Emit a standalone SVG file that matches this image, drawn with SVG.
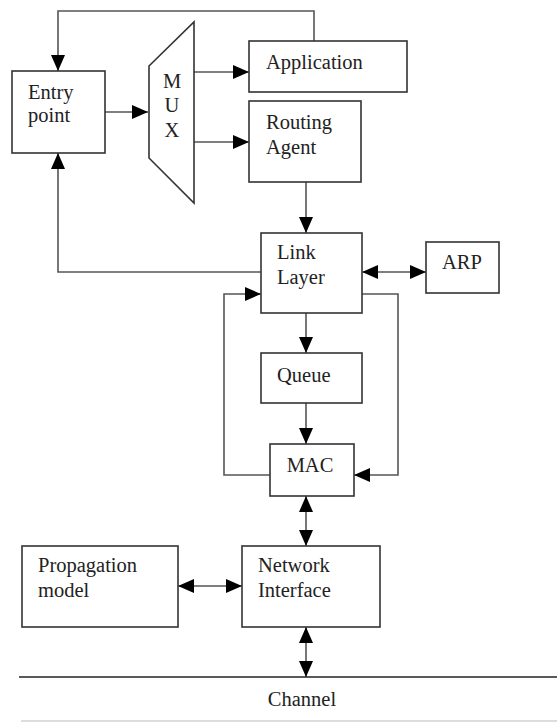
<svg xmlns="http://www.w3.org/2000/svg" width="557" height="723" viewBox="0 0 557 723">
<style>
.box{fill:#fff;stroke:#333;stroke-width:1.6}
.ln{fill:none;stroke:#555;stroke-width:1.6}
text{font-family:"Times New Roman","Liberation Serif",Times,Tinos,"DejaVu Serif","Noto Serif",serif;font-size:20.5px;fill:#222}
.c{text-anchor:middle}
</style>
<defs>
<marker id="ah" markerUnits="userSpaceOnUse" markerWidth="17" markerHeight="15" refX="16" refY="7" orient="auto-start-reverse" viewBox="0 0 17 15">
<path d="M0,0 L16,7 L0,14 z" fill="#000"/>
</marker>
</defs>
<rect width="557" height="723" fill="#fff"/>
<g id="connectors">
<path class="ln" d="M314,41 V11 H58 V71" marker-end="url(#ah)"/>
<path class="ln" d="M105,112 H148" marker-end="url(#ah)"/>
<path class="ln" d="M194,72 H249" marker-end="url(#ah)"/>
<path class="ln" d="M194,142 H249" marker-end="url(#ah)"/>
<path class="ln" d="M306,182 V233" marker-end="url(#ah)"/>
<path class="ln" d="M261,272 H58 V153" marker-end="url(#ah)"/>
<path class="ln" d="M362,272 H426" marker-start="url(#ah)" marker-end="url(#ah)"/>
<path class="ln" d="M270,475 H224 V294 H261" marker-end="url(#ah)"/>
<path class="ln" d="M362,294 H398 V475 H354" marker-end="url(#ah)"/>
<path class="ln" d="M306,313 V353" marker-end="url(#ah)"/>
<path class="ln" d="M306,403 V444" marker-end="url(#ah)"/>
<path class="ln" d="M306,496 V546" marker-start="url(#ah)" marker-end="url(#ah)"/>
<path class="ln" d="M178,586 H242" marker-start="url(#ah)" marker-end="url(#ah)"/>
<path class="ln" d="M306,627 V677" marker-start="url(#ah)" marker-end="url(#ah)"/>
</g>
<g id="entry">
<rect class="box" x="12" y="71" width="93" height="82"/>
<text x="28" y="99">Entry</text>
<text x="28" y="122">point</text>
</g>
<g id="mux">
<polygon class="box" points="149,66 194,22 194,203 149,158"/>
<text class="c" x="172" y="88">M</text>
<text class="c" x="172" y="112">U</text>
<text class="c" x="172" y="137">X</text>
</g>
<g id="application">
<rect class="box" x="249" y="41" width="158" height="51"/>
<text x="266" y="69">Application</text>
</g>
<g id="routing">
<rect class="box" x="249" y="101" width="112" height="81"/>
<text x="266" y="129">Routing</text>
<text x="266" y="154">Agent</text>
</g>
<g id="linklayer">
<rect class="box" x="261" y="233" width="101" height="80"/>
<text x="277" y="259">Link</text>
<text x="277" y="284">Layer</text>
</g>
<g id="arp">
<rect class="box" x="426" y="242" width="73" height="51"/>
<text class="c" x="462" y="269">ARP</text>
</g>
<g id="queue">
<rect class="box" x="261" y="353" width="101" height="50"/>
<text x="277" y="382">Queue</text>
</g>
<g id="mac">
<rect class="box" x="270" y="444" width="84" height="52"/>
<text class="c" x="310" y="472">MAC</text>
</g>
<g id="propagation">
<rect class="box" x="22" y="546" width="156" height="81"/>
<text x="38" y="572">Propagation</text>
<text x="38" y="597">model</text>
</g>
<g id="netif">
<rect class="box" x="242" y="546" width="138" height="81"/>
<text x="258" y="572">Network</text>
<text x="258" y="597">Interface</text>
</g>
<g id="channel">
<line x1="19" y1="677" x2="557" y2="677" stroke="#222" stroke-width="1.6"/>
<text class="c" x="302" y="706">Channel</text>
<line x1="21" y1="721" x2="557" y2="721" stroke="#d0d0d0" stroke-width="1.5"/>
</g>
</svg>
